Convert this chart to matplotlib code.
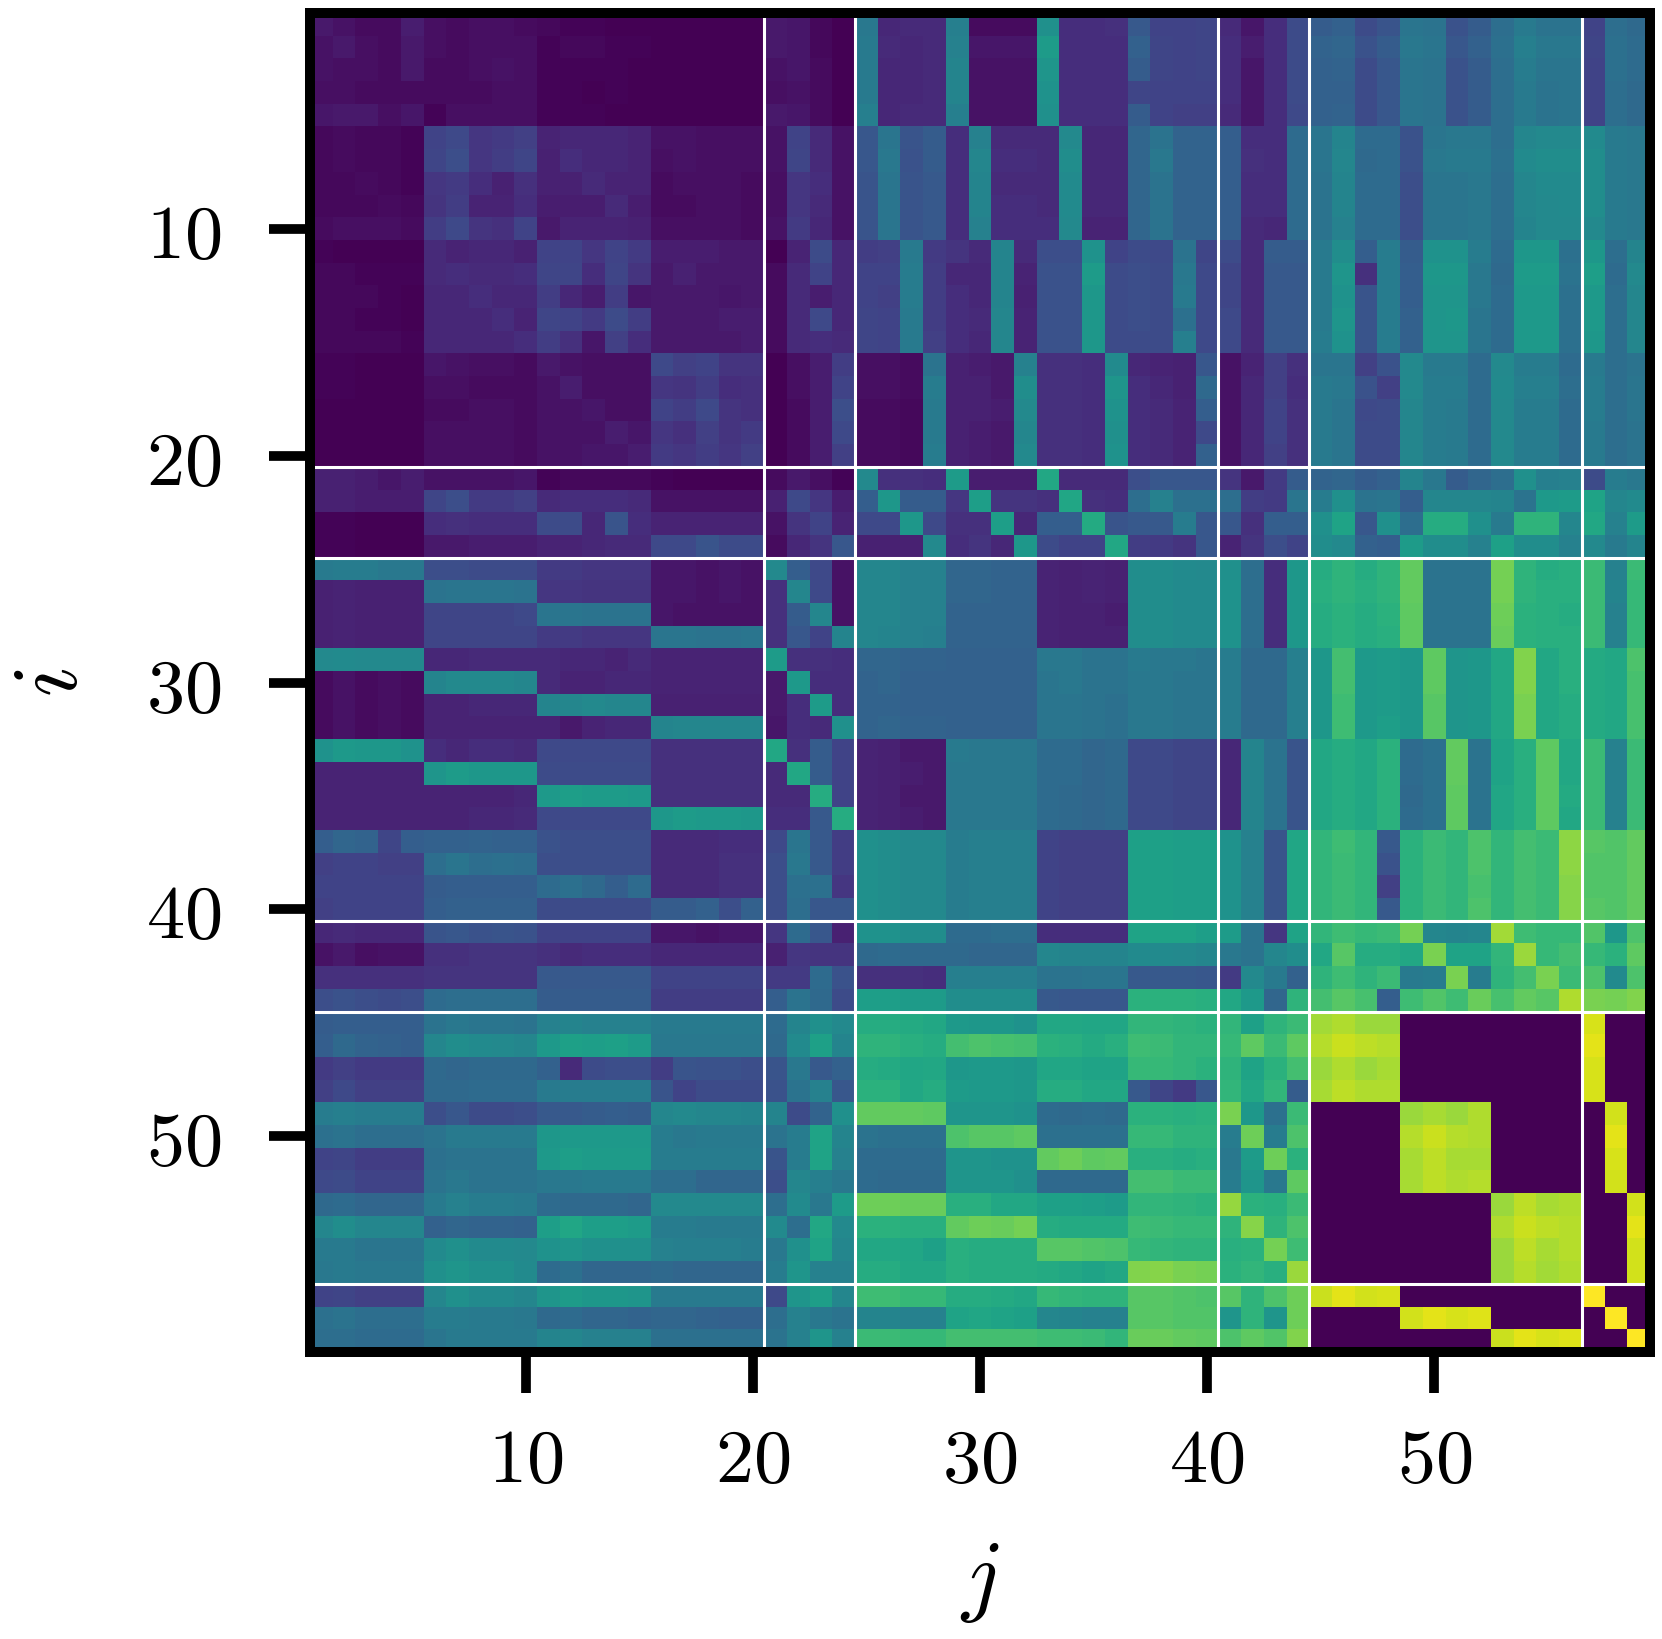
#!/usr/bin/env python3
"""Pairwise matrix heatmap, values given as percent of the viridis range."""

import numpy as np
import matplotlib
matplotlib.use("Agg")
import matplotlib.pyplot as plt

plt.rcParams["mathtext.fontset"] = "cm"

# one list per row i, 59 columns j
r01 = [7,5,3,3,8, 4,3,4,4,3, 2,1,1,0,0, 0,0,0,0,0, 7,6,2,0, 40,11,12,12, 43,3,3,3, 50,13,13,14, 28,20,20,21, 12,6,13,23, 29,31,23,26, 39,38,25,29, 36,41,38,38, 20,36,34]
r02 = [5,7,4,3,7, 4,3,4,4,4, 1,2,2,1,1, 0,0,0,0,0, 7,6,2,0, 41,12,11,12, 44,6,6,6, 55,13,13,13, 31,21,20,21, 13,8,13,23, 32,33,25,29, 40,39,27,31, 37,43,40,40, 21,37,35]
r03 = [5,4,4,3,7, 3,3,4,5,4, 1,1,1,1,0, 0,0,0,0,0, 5,6,3,0, 41,11,11,12, 45,5,5,5, 52,13,13,13, 29,21,20,21, 13,6,13,23, 31,32,23,27, 39,38,25,29, 36,42,39,39, 20,37,35]
r04 = [4,4,3,3,3, 3,3,3,4,4, 1,1,0,1,0, 0,0,0,0,0, 4,5,3,0, 41,11,11,12, 45,5,5,5, 51,13,13,13, 21,20,20,20, 13,6,13,23, 31,31,23,27, 39,38,25,29, 36,41,38,39, 20,36,34]
r05 = [6,7,7,4,6, 1,4,4,4,4, 1,1,1,0,0, 0,0,0,0,0, 7,6,3,0, 43,11,12,12, 43,5,5,5, 50,13,13,13, 29,20,19,19, 12,6,13,22, 31,32,23,27, 39,38,25,29, 36,41,38,39, 20,36,34]

r06 = [2,3,2,2,1, 20,22,16,17,19, 10,11,11,11,10, 5,5,4,4,4, 5,20,12,5, 27,39,26,29, 13,44,12,12, 12,47,11,11, 33,38,32,32, 30,13,13,35, 39,45,35,35, 25,39,40,40, 36,46,47,47, 48,41,40]
r07 = [2,3,2,2,1, 21,24,16,18,21, 9,13,11,11,10, 4,5,4,4,4, 5,21,12,5, 27,40,25,29, 13,46,13,13, 12,49,11,11, 33,40,32,32, 30,14,13,35, 39,46,34,35, 25,40,41,41, 37,48,49,49, 49,41,40]
r08 = [2,2,3,2,1, 16,17,13,9,14, 9,9,12,10,10, 3,4,4,4,3, 4,16,13,5, 26,39,26,28, 13,45,12,12, 12,48,11,11, 33,38,32,32, 30,13,13,35, 38,45,35,35, 24,39,39,40, 36,46,48,48, 49,41,40]
r09 = [2,2,2,3,2, 15,18,10,10,13, 8,8,8,12,8, 3,3,4,4,3, 4,16,12,5, 26,39,26,28, 13,45,13,13, 12,48,11,11, 33,38,32,32, 30,13,13,35, 38,45,35,35, 24,39,39,40, 36,46,47,48, 49,41,40]
r10 = [3,4,4,4,3, 18,22,15,14,20, 7,10,10,10,9, 4,4,4,4,3, 5,17,11,5, 26,39,26,28, 13,44,13,13, 13,47,10,10, 33,38,32,32, 30,12,11,35, 38,44,35,35, 24,39,39,40, 36,45,47,47, 47,41,40]

r11 = [1,0,0,0,0, 12,10,11,11,9, 20,20,16,20,17, 8,8,8,7,7, 0,10,23,11, 18,19,41,17, 15,12,45,12, 24,24,51,20, 23,22,38,21, 23,12,29,29, 41,49,30,42, 29,51,51,42, 35,53,53,37, 53,36,45]
r12 = [2,2,1,1,1, 12,13,12,12,13, 21,21,13,21,15, 7,9,7,7,7, 3,12,20,11, 20,20,42,18, 11,11,45,10, 25,25,55,23, 24,23,40,22, 21,12,28,28, 41,52,14,42, 30,53,53,40, 34,55,55,38, 56,35,47]
r13 = [2,2,2,1,0, 11,11,13,11,11, 18,11,8,18,6, 7,7,7,6,7, 3,12,8,11, 20,19,42,18, 13,11,45,9, 25,25,53,23, 24,23,41,22, 21,12,28,28, 41,51,26,42, 30,52,52,40, 35,54,54,37, 54,36,46]
r14 = [2,2,1,1,0, 11,11,11,13,10, 21,20,17,23,18, 7,7,7,8,8, 3,12,22,11, 21,20,41,18, 13,12,46,10, 25,25,53,23, 24,23,37,22, 22,12,28,28, 41,52,26,42, 31,52,53,39, 35,54,54,37, 54,36,46]
r15 = [2,2,2,2,1, 11,11,11,11,13, 18,14,6,19,13, 7,7,7,7,8, 3,12,13,12, 21,20,41,19, 13,11,46,10, 25,25,53,23, 23,23,43,22, 22,12,28,28, 42,51,26,42, 31,52,52,39, 35,54,54,37, 53,36,46]

r16 = [1,1,0,0,0, 6,5,4,4,3, 7,5,4,4,4, 22,19,20,15,15, 0,4,8,18, 4,4,3,38, 9,8,7,44, 14,14,13,48, 11,10,9,27, 5,10,19,14, 39,39,19,25, 47,41,41,35, 47,42,42,35, 41,36,38]
r17 = [1,1,0,0,0, 4,4,3,3,3, 5,8,4,4,4, 16,15,18,13,14, 0,4,8,20, 4,4,3,42, 9,9,7,49, 14,14,13,52, 13,11,9,34, 5,11,19,13, 41,40,25,19, 47,42,42,35, 48,43,43,36, 42,36,39]
r18 = [0,0,0,0,0, 3,3,4,4,3, 5,5,6,4,4, 20,18,22,15,14, 0,3,8,24, 3,3,2,41, 9,9,8,47, 14,14,13,51, 13,12,10,30, 5,11,20,14, 41,39,22,23, 46,42,41,35, 47,42,42,35, 42,36,39]
r19 = [0,0,0,0,0, 4,4,4,4,3, 5,5,5,8,6, 16,14,19,15,17, 0,3,8,22, 3,3,2,41, 9,8,7,46, 14,14,13,50, 13,12,10,22, 5,11,20,14, 41,39,23,23, 46,42,41,35, 47,42,42,35, 41,36,38]
r20 = [0,0,0,0,0, 4,4,4,4,3, 5,5,6,6,8, 17,16,18,16,19, 0,3,8,19, 3,3,2,42, 9,8,7,47, 14,14,13,51, 13,12,10,31, 5,11,19,14, 41,39,23,23, 46,42,41,35, 47,42,42,35, 41,36,38]

r21 = [9,9,8,6,8, 5,5,5,5,6, 1,2,2,2,2, 1,0,0,0,0, 3,7,4,1, 47,14,14,13, 55,8,8,8, 60,12,12,12, 24,27,27,27, 15,7,17,29, 32,33,29,31, 45,40,29,33, 36,50,43,44, 23,42,40]
r22 = [9,9,8,8,8, 21,24,17,17,19, 12,13,13,13,12, 5,5,5,5,5, 9,22,16,8, 30,53,29,29, 16,56,15,15, 14,59,14,13, 36,44,37,37, 36,18,17,39, 42,50,38,39, 30,46,46,46, 45,38,54,55, 58,46,48]
r23 = [1,1,0,0,0, 13,14,13,13,13, 23,23,11,26,13, 10,10,10,10,10, 5,15,20,10, 22,22,53,22, 14,14,56,11, 30,30,61,26, 28,28,42,27, 27,14,30,30, 50,58,27,50, 36,62,62,50, 41,65,65,46, 60,44,55]
r24 = [1,1,0,0,0, 7,7,8,8,8, 10,10,11,12,12, 22,22,26,23,23, 3,11,15,27, 9,9,9,47, 13,15,11,53, 23,20,20,60, 18,17,15,27, 10,15,24,20, 49,47,31,30, 55,49,49,44, 57,49,49,44, 47,41,45]

r25 = [41,42,42,40,40, 24,24,23,23,23, 17,17,16,16,16, 6,6,5,6,5, 47,30,22,5, 46,46,44,44, 33,33,32,32, 10,9,10,9, 49,49,48,47, 50,36,13,53, 62,65,62,65, 76,38,38,38, 79,65,62,63, 68,44,68]
r26 = [9,10,9,9,9, 38,39,39,39,38, 16,16,15,15,15, 6,6,5,6,5, 14,46,22,5, 46,46,44,44, 33,33,32,32, 10,9,10,9, 49,49,48,48, 51,36,13,53, 63,65,63,65, 76,38,38,38, 79,65,63,63, 68,45,67]
r27 = [9,10,9,9,9, 21,21,21,21,22, 39,39,38,38,38, 6,5,5,5,5, 14,29,46,5, 46,46,44,44, 32,32,32,32, 10,9,9,8, 49,49,48,48, 51,36,13,53, 62,64,62,64, 75,38,38,38, 78,64,63,62, 68,44,67]
r28 = [9,10,9,9,9, 21,21,21,21,21, 17,17,16,16,16, 39,39,38,38,39, 14,27,20,45, 46,45,44,43, 32,32,32,32, 10,9,9,9, 49,49,48,48, 51,36,13,53, 62,64,62,63, 75,38,38,38, 77,64,63,63, 68,44,67]

r29 = [47,48,47,47,47, 11,11,12,12,12, 12,11,11,10,12, 10,10,10,10,10, 55,14,14,13, 33,33,32,32, 31,31,31,31, 40,40,38,38, 41,40,40,39, 42,34,34,43, 53,70,54,55, 53,75,52,53, 60,81,60,63, 61,60,72]
r30 = [3,5,3,4,3, 45,47,47,47,46, 12,10,10,11,11, 10,10,10,10,10, 7,54,13,13, 32,33,31,31, 31,31,31,31, 39,40,38,38, 40,40,39,39, 42,34,34,43, 53,70,54,55, 53,75,52,53, 60,81,60,63, 61,60,71]
r31 = [3,5,3,4,3, 10,10,11,11,11, 45,46,47,46,46, 9,9,9,9,9, 7,13,55,13, 32,32,31,31, 31,31,31,31, 39,39,38,37, 40,40,39,39, 42,34,34,43, 53,69,54,55, 53,74,52,53, 60,80,60,62, 61,60,71]
r32 = [3,5,3,4,3, 10,10,10,10,10, 10,7,10,11,11, 45,46,46,46,46, 6,13,12,50, 32,33,32,32, 31,31,31,31, 39,39,38,37, 40,40,39,39, 42,34,34,43, 53,69,54,56, 53,74,52,53, 60,80,60,62, 61,60,71]

r33 = [51,54,53,53,51, 13,11,13,13,12, 22,22,22,22,22, 14,14,14,14,14, 60,14,29,20, 10,9,7,7, 41,40,40,40, 35,35,33,34, 22,22,21,21, 11,45,38,26, 60,62,60,64, 35,37,76,38, 58,63,75,60, 68,44,68]
r34 = [10,10,10,10,10, 52,55,53,53,53, 23,23,23,23,23, 14,14,14,14,14, 12,60,29,20, 10,9,8,7, 40,40,40,40, 35,35,33,34, 22,22,21,21, 11,45,38,26, 60,62,60,64, 35,37,76,38, 58,63,75,60, 68,44,68]
r35 = [10,10,10,10,10, 10,10,10,10,11, 54,56,55,55,54, 14,14,14,14,14, 12,12,62,20, 10,9,7,7, 40,40,40,40, 35,34,33,34, 22,22,21,21, 11,45,38,26, 60,62,60,64, 34,37,75,38, 59,63,75,61, 68,44,68]
r36 = [10,10,10,10,10, 10,10,11,11,12, 22,22,22,22,22, 53,55,54,54,53, 13,13,28,62, 10,9,8,7, 40,40,40,40, 35,34,33,34, 22,22,21,21, 11,45,38,26, 60,62,60,64, 35,37,75,38, 59,63,75,60, 68,44,68]

r37 = [30,33,32,21,30, 31,31,32,31,31, 25,24,24,24,24, 12,12,12,13,13, 22,39,28,18, 50,49,47,47, 42,43,43,43, 20,19,19,19, 57,57,56,56, 51,44,26,59, 66,69,66,28, 64,68,66,72, 66,70,68,83, 74,73,76]
r38 = [19,20,20,19,19, 36,39,36,37,36, 24,24,24,24,24, 12,12,12,14,14, 24,40,28,18, 50,49,47,47, 42,43,43,43, 20,19,19,19, 57,57,56,56, 51,44,26,59, 66,68,66,25, 64,68,66,72, 66,70,68,83, 73,73,76]
r39 = [20,20,20,20,20, 29,30,30,30,30, 35,37,34,30,35, 12,12,12,14,14, 24,37,37,16, 50,49,47,47, 42,43,43,43, 20,19,19,19, 57,57,56,56, 51,44,26,59, 66,68,66,19, 64,68,66,71, 66,70,68,82, 73,73,76]
r40 = [19,20,20,20,20, 30,31,31,31,31, 23,23,23,23,23, 29,29,31,24,31, 24,36,27,27, 50,49,47,47, 42,43,43,43, 20,19,19,19, 57,57,56,56, 51,44,26,59, 66,68,66,28, 64,68,66,72, 66,70,68,82, 74,73,76]

r41 = [11,12,11,11,11, 26,27,25,26,25, 20,20,20,20,20, 6,6,5,6,6, 16,35,27,9, 51,51,49,49, 35,35,36,36, 13,13,13,13, 58,58,58,56, 55,38,16,58, 66,69,67,68, 79,46,45,46, 86,69,67,67, 73,53,72]
r42 = [5,7,4,5,5, 14,14,15,15,15, 14,12,13,13,13, 11,11,11,11,11, 9,16,15,15, 34,35,34,34, 34,33,33,33, 46,45,45,45, 48,48,47,46, 40,38,46,49, 60,74,62,62, 60,80,58,58, 66,85,67,70, 67,64,75]
r43 = [14,14,14,14,14, 15,15,15,15,15, 28,28,28,28,28, 20,20,20,20,20, 17,17,35,25, 14,14,14,13, 43,43,43,43, 38,38,39,39, 28,28,28,27, 17,47,41,31, 65,69,65,68, 41,42,80,42, 65,70,80,68, 72,48,72]
r44 = [24,25,24,23,24, 35,36,36,36,36, 29,29,29,29,29, 18,18,18,18,18, 30,38,34,23, 56,56,55,55, 49,49,49,49, 28,27,27,27, 64,64,64,63, 60,54,33,65, 70,74,71,30, 69,73,69,77, 71,76,74,88, 80,79,81]

r45 = [29,30,30,30,30, 38,40,39,39,38, 44,45,44,44,44, 41,41,41,41,41, 35,45,50,47, 62,62,61,60, 54,53,53,51, 60,60,59,59, 66,66,65,64, 66,57,65,68, 86,88,85,85, 0,0,0,0, 0,0,0,0, 94,0,0]
r46 = [30,34,32,31,30, 46,49,48,47,46, 54,57,56,57,55, 40,40,40,40,40, 34,48,57,45, 65,65,63,62, 70,72,71,70, 64,63,61,63, 69,68,66,66, 67,75,68,75, 89,92,90,89, 0,0,0,0, 0,0,0,0, 96,0,0]
r47 = [17,19,17,17,17, 34,33,34,34,34, 31,12,23,24,24, 18,26,25,25,24, 26,40,28,31, 62,61,59,60, 53,54,54,53, 59,59,58,58, 67,67,66,64, 65,58,64,70, 85,88,85,87, 0,0,0,0, 0,0,0,0, 94,0,0]
r48 = [19,22,19,19,19, 34,34,35,35,35, 41,42,42,42,42, 26,20,23,23,23, 25,38,44,27, 64,64,60,62, 55,54,54,53, 62,62,60,60, 28,21,17,27, 66,60,66,29, 87,90,88,88, 0,0,0,0, 0,0,0,0, 94,0,0]

r49 = [42,43,42,42,42, 24,27,23,23,24, 28,28,29,30,29, 46,47,46,46,45, 45,23,32,50, 76,76,76,75, 52,52,52,51, 35,34,35,34, 64,64,63,64, 80,53,37,68, 0,0,0,0, 85,87,85,88, 0,0,0,0, 0,93,0]
r50 = [37,38,36,36,36, 38,41,41,41,41, 53,54,54,54,54, 42,40,41,41,41, 38,42,58,45, 38,37,37,37, 72,74,74,75, 37,37,37,37, 67,67,65,65, 42,78,42,72, 0,0,0,0, 89,92,89,88, 0,0,0,0, 0,96,0]
r51 = [20,21,18,18,18, 37,38,38,38,38, 54,56,55,55,55, 42,42,42,42,42, 26,42,58,44, 35,35,35,35, 52,52,51,51, 76,78,75,76, 63,63,62,63, 40,55,78,64, 0,0,0,0, 87,90,87,87, 0,0,0,0, 0,94,0]
r52 = [22,23,20,20,20, 38,40,38,38,38, 40,40,41,41,41, 36,36,33,33,33, 24,46,43,40, 35,34,34,34, 52,52,52,50, 34,34,34,34, 70,70,68,68, 42,52,40,75, 0,0,0,0, 87,90,88,89, 0,0,0,0, 0,93,0]

r53 = [34,35,33,33,33, 41,44,42,42,41, 35,34,34,34,33, 47,47,47,47,47, 36,48,40,55, 78,78,77,77, 63,63,60,60, 57,57,56,55, 66,66,65,64, 84,64,63,68, 0,0,0,0, 0,0,0,0, 85,90,87,88, 0,0,93]
r54 = [46,49,46,46,46, 31,33,32,32,31, 56,59,56,56,55, 42,42,41,41,41, 48,36,60,47, 64,64,63,63, 76,78,77,79, 62,61,61,61, 69,68,67,67, 65,82,65,72, 0,0,0,0, 0,0,0,0, 88,92,90,89, 0,0,96]
r55 = [41,41,39,39,39, 48,50,48,48,47, 51,52,50,50,50, 44,43,43,43,42, 40,50,58,46, 60,60,59,57, 63,62,62,62, 74,74,73,72, 67,66,65,65, 63,64,79,69, 0,0,0,0, 0,0,0,0, 85,90,87,89, 0,0,93]
r56 = [40,41,40,40,40, 50,52,50,50,48, 35,37,33,33,33, 34,33,33,33,33, 42,52,44,44, 62,62,60,60, 63,62,62,62, 61,60,58,60, 81,82,80,79, 64,66,63,85, 0,0,0,0, 0,0,0,0, 85,89,86,88, 0,0,93]

r57 = [20,21,19,19,19, 46,50,48,48,46, 52,55,53,53,52, 41,41,41,41,41, 22,52,56,46, 69,69,67,67, 62,62,61,60, 67,66,65,65, 74,74,73,72, 74,65,72,78, 92,96,93,94, 0,0,0,0, 0,0,0,0, 100,0,0]
r58 = [37,38,36,36,36, 42,42,41,41,40, 34,35,33,33,32, 33,33,32,31,31, 36,44,40,38, 45,45,44,44, 58,59,58,57, 46,45,44,44, 74,74,73,73, 52,65,52,78, 0,0,0,0, 93,96,94,95, 0,0,0,0, 0,100,0]
r59 = [36,36,35,35,35, 39,41,41,41,41, 45,46,44,44,44, 37,37,37,37,37, 38,44,52,44, 68,68,67,67, 70,70,70,70, 69,69,68,66, 77,77,76,75, 72,75,73,81, 0,0,0,0, 0,0,0,0, 92,96,94,95, 0,0,100]

rows = [r01, r02, r03, r04, r05, r06, r07, r08, r09, r10, r11, r12, r13, r14, r15,
        r16, r17, r18, r19, r20, r21, r22, r23, r24, r25, r26, r27, r28, r29, r30,
        r31, r32, r33, r34, r35, r36, r37, r38, r39, r40, r41, r42, r43, r44, r45,
        r46, r47, r48, r49, r50, r51, r52, r53, r54, r55, r56, r57, r58, r59]

# group boundaries and ticks
separators = [20.5, 24.5, 40.5, 44.5, 56.5]
ticks = [10, 20, 30, 40, 50]

W, H = 1662, 1639
fig = plt.figure(figsize=(W / 100, H / 100), dpi=100)
ax = fig.add_axes([310 / W, 1 - 1352 / H, 1340 / W, 1339 / H])

matrix = np.array(rows, dtype=float) / 100
ax.imshow(matrix, cmap="viridis", vmin=0, vmax=1, aspect="auto",
          interpolation="nearest", extent=(0.5, 59.5, 59.5, 0.5))

for s in separators:
    ax.axvline(s, color="white", lw=2.2)
    ax.axhline(s, color="white", lw=2.2)

for spine in ax.spines.values():
    spine.set_linewidth(7.2)

ax.set_xticks(ticks, [f"${t}$" for t in ticks])
ax.set_yticks(ticks, [f"${t}$" for t in ticks])
ax.tick_params(axis="both", length=29.5, width=7, labelsize=55)
ax.tick_params(axis="x", pad=22)
ax.tick_params(axis="y", pad=34)
ax.set_xlabel("$j$", fontsize=66, labelpad=27)
ax.set_ylabel("$i$", fontsize=66, labelpad=36)

fig.savefig("out.png", dpi=100)
